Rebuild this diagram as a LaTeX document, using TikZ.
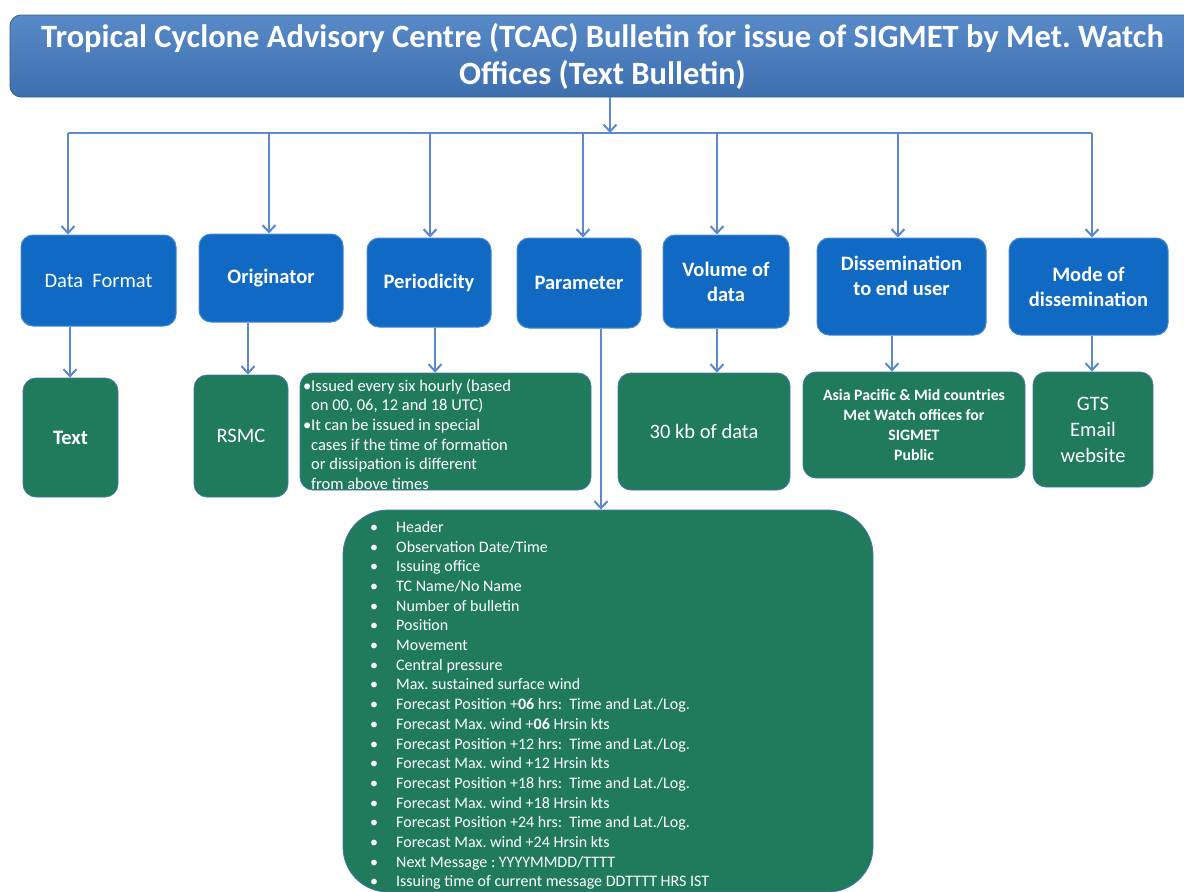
\documentclass[tikz,border=0pt]{standalone}
\usepackage{fontspec}
\setmainfont{Carlito}
\usetikzlibrary{arrows.meta}
\frenchspacing
\definecolor{boxblue}{RGB}{16,106,196}
\definecolor{blueedge}{RGB}{70,135,210}
\definecolor{boxgreen}{RGB}{32,123,92}
\definecolor{greenedge}{RGB}{70,120,170}
\definecolor{arrowc}{RGB}{92,136,206}
\definecolor{titletop}{RGB}{88,138,200}
\definecolor{titlebot}{RGB}{62,112,176}
\tikzset{
  titlebox/.style={rectangle, rounded corners=11pt, top color=titletop, bottom color=titlebot,
    draw=titlebot!80!black, line width=0.8pt, text=white, align=center, inner sep=0pt,
    font=\bfseries\fontsize{32.5}{37}\selectfont},
  bluebox/.style={rectangle, rounded corners=12pt, fill=boxblue, draw=blueedge, line width=1pt,
    text=white, align=center, inner sep=0pt, font=\bfseries\fontsize{20.5}{25}\selectfont},
  greenbox/.style={rectangle, rounded corners=13pt, fill=boxgreen, draw=greenedge, line width=0.8pt,
    text=white, align=center, inner sep=0pt, font=\fontsize{20.5}{26}\selectfont},
  smalltext/.style={text=white, inner sep=0pt, align=left, font=\fontsize{16.5}{19.6}\selectfont},
  conn/.style={draw=arrowc, line width=2pt, -{Straight Barb[length=7pt,width=13pt,line width=2pt]}},
  busline/.style={draw=arrowc, line width=2pt},
}
\newcommand{\bul}{\makebox[8pt][l]{\textbullet}}
\newcommand{\lbul}{\makebox[26pt][l]{\textbullet}}
\begin{document}
\begin{tikzpicture}[x=1pt,y=-1pt]
\useasboundingbox (0,0) rectangle (1184,892);
\clip (0,0) rectangle (1184,892);

% title
\node[titlebox, minimum width=1185pt, minimum height=82pt] (title) at (602.5,56)
  {Tropical Cyclone Advisory Centre (TCAC) Bulletin for issue of SIGMET by Met. Watch\\Offices (Text Bulletin)};

% first row
\node[bluebox, minimum width=155pt, minimum height=91pt, font=\fontsize{20.5}{25}\selectfont] (df) at (98.5,280.5) {Data\ \ Format};
\node[bluebox, minimum width=144pt, minimum height=88pt] (orig) at (271,278) {Originator};
\node[bluebox, minimum width=124pt, minimum height=89pt] (per) at (429,282.5) {Periodicity};
\node[bluebox, minimum width=124pt, minimum height=90pt] (par) at (579,283) {Parameter};
\node[bluebox, minimum width=126pt, minimum height=93pt] (vol) at (726,281.5) {Volume of\\data};
\node[bluebox, minimum width=169pt, minimum height=97pt] (dis) at (901.5,286.5) {};
\node[text=white, align=center, inner sep=0pt, font=\bfseries\fontsize{20.5}{25}\selectfont] (dist) at (901.5,276) {Dissemination\\to end user};
\node[bluebox, minimum width=159pt, minimum height=97pt] (mode) at (1088.5,286.5) {Mode of\\dissemination};

% second row
\node[greenbox, minimum width=95pt, minimum height=119pt, font=\bfseries\fontsize{20.5}{26}\selectfont] (txt) at (70.5,437.5) {Text};
\node[greenbox, minimum width=94pt, minimum height=122pt] (rsmc) at (241,436) {RSMC};
\node[greenbox, minimum width=291pt, minimum height=117pt] (perd) at (445.5,431.5) {};
\node[smalltext, anchor=north west] (perdt) at (303,379)
  {\bul Issued every six hourly (based\\
   \hspace*{8pt}on 00, 06, 12 and 18 UTC)\\
   \bul It can be issued in special\\
   \hspace*{8pt}cases if the time of formation\\
   \hspace*{8pt}or dissipation is different\\
   \hspace*{8pt}from above times};
\node[greenbox, minimum width=172pt, minimum height=117pt] (vold) at (704,431.5) {30 kb of data};
\node[greenbox, minimum width=222pt, minimum height=106pt, font=\bfseries\fontsize{15.8}{20}\selectfont] (asia) at (914,425)
  {Asia Pacific \& Mid countries\\Met Watch offices for\\SIGMET\\Public};
\node[greenbox, minimum width=120pt, minimum height=115pt] (gts) at (1093,429.5) {GTS\\Email\\website};

% big parameter box
\node[greenbox, rounded corners=45pt, minimum width=530pt, minimum height=382pt] (big) at (608,701) {};
\node[text=white, inner sep=0pt, align=left, anchor=north west, font=\fontsize{16}{19.7}\selectfont] (bigt) at (370,521)
  {\lbul Header\\
   \lbul Observation Date/Time\\
   \lbul Issuing office\\
   \lbul TC Name/No Name\\
   \lbul Number of bulletin\\
   \lbul Position\\
   \lbul Movement\\
   \lbul Central pressure\\
   \lbul Max. sustained surface wind\\
   \lbul Forecast Position +\textbf{06} hrs:\ \ Time and Lat./Log.\\
   \lbul Forecast Max. wind +\textbf{06} Hrsin kts\\
   \lbul Forecast Position +12 hrs:\ \ Time and Lat./Log.\\
   \lbul Forecast Max. wind +12 Hrsin kts\\
   \lbul Forecast Position +18 hrs:\ \ Time and Lat./Log.\\
   \lbul Forecast Max. wind +18 Hrsin kts\\
   \lbul Forecast Position +24 hrs:\ \ Time and Lat./Log.\\
   \lbul Forecast Max. wind +24 Hrsin kts\\
   \lbul Next Message : YYYYMMDD/TTTT\\
   \lbul Issuing time of current message DDTTTT HRS IST};

% connectors from title
\coordinate (bus) at (610,133);
\coordinate (busL) at (68,133);
\coordinate (busR) at (1092,133);
\draw[conn] (title.south -| bus) -- (bus);
\draw[busline] (busL) -- (busR);
\coordinate (b1) at (68,133);
\coordinate (b2) at (269,133);
\coordinate (b3) at (430,133);
\coordinate (b4) at (583,133);
\coordinate (b5) at (717,133);
\coordinate (b6) at (898,133);
\coordinate (b7) at (1092,133);
\draw[conn] (b1) -- (b1 |- df.north);
\draw[conn] (b2) -- (b2 |- orig.north);
\draw[conn] (b3) -- (b3 |- per.north);
\draw[conn] (b4) -- (b4 |- par.north);
\draw[conn] (b5) -- (b5 |- vol.north);
\draw[conn] (b6) -- (b6 |- dis.north);
\draw[conn] (b7) -- (b7 |- mode.north);

% connectors to second row
\coordinate (c1) at (70,0);
\coordinate (c2) at (248,0);
\coordinate (c3) at (435,0);
\coordinate (c4) at (601,0);
\coordinate (c5) at (717,0);
\coordinate (c6) at (892,0);
\coordinate (c7) at (1092,0);
\draw[conn] (df.south -| c1) -- (txt.north -| c1);
\draw[conn] (orig.south -| c2) -- (rsmc.north -| c2);
\draw[conn] (per.south -| c3) -- (perd.north -| c3);
\draw[conn] (par.south -| c4) -- (big.north -| c4);
\draw[conn] (vol.south -| c5) -- (vold.north -| c5);
\draw[conn] (dis.south -| c6) -- (asia.north -| c6);
\draw[conn] (mode.south -| c7) -- (gts.north -| c7);
\end{tikzpicture}
\end{document}
